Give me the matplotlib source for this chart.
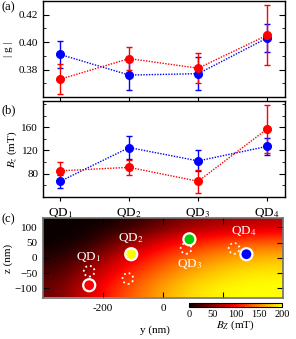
import numpy as np
import matplotlib
matplotlib.use('Agg')
import matplotlib.pyplot as plt
from matplotlib.colors import ListedColormap

plt.rcParams['font.family'] = ['Liberation Serif', 'DejaVu Serif']
plt.rcParams['mathtext.fontset'] = 'stix'
plt.rcParams['font.size'] = 8

# data
qd = [1, 2, 3, 4]
qd_labels = ['QD$_1$', 'QD$_2$', 'QD$_3$', 'QD$_4$']

g_red = [0.373, 0.388, 0.381, 0.405]
g_red_err = [0.0107, 0.0085, 0.011, 0.022]
g_blue = [0.391, 0.376, 0.377, 0.403]
g_blue_err = [0.010, 0.011, 0.012, 0.0105]

bz_red = [85, 91, 67, 157]
bz_red_err = [15, 13, 20, 41]
bz_blue = [67, 125, 102, 127]
bz_blue_err = [11, 20, 18, 14]

# B_z map (mT), rows from z=+130 down to z=-130, columns y=-400..400
map_y = [-400, -300, -200, -100, 0, 100, 200, 300, 400]
map_z = [130, 65, 0, -65, -130]
bz_map = [
    [0, 0, 5, 15, 35, 50, 60, 65, 70],
    [0, 5, 30, 60, 85, 105, 118, 128, 132],
    [10, 30, 65, 95, 120, 140, 155, 165, 170],
    [25, 55, 90, 120, 145, 165, 178, 188, 192],
    [40, 75, 110, 140, 165, 185, 195, 200, 200],
]

# quantum dot positions (nm)
dot_y = [-246, -106, 88, 278]
dot_z = [-90, 12, 61, 12]
dot_colors = ['red', 'yellow', '#00cc00', 'blue']
ring_y = [-246, -117, 77, 237]
ring_z = [-44, -68, 31, 31]
text_y = [-247, -108, 90, 268]
text_z = [2, 65, -21, 87]

W, H = 296, 339
fig = plt.figure(figsize=(W / 100, H / 100), dpi=100)

def fx(px):
    return px / W

def fy(py):
    return 1 - py / H

ax_a = fig.add_axes([fx(43), fy(97), fx(285 - 43), (97 - 1) / H])
ax_b = fig.add_axes([fx(43), fy(197), fx(285 - 43), (197 - 101) / H])
ax_c = fig.add_axes([fx(43), fy(298), fx(283 - 43), (298 - 218) / H])
cax = fig.add_axes([fx(189), fy(307), fx(282 - 189), 4 / H])

lw = 1.0
for ax, r, re, b, be in [(ax_a, g_red, g_red_err, g_blue, g_blue_err),
                         (ax_b, bz_red, bz_red_err, bz_blue, bz_blue_err)]:
    ax.errorbar(qd, b, yerr=be, color='blue', ls=(0, (1, 1)), lw=lw,
                marker='o', ms=5.5, capsize=2.5, elinewidth=1, capthick=1)
    ax.errorbar(qd, r, yerr=re, color='red', ls=(0, (1, 1)), lw=lw,
                marker='o', ms=5.5, capsize=2.5, elinewidth=1, capthick=1)
    ax.set_xlim(0.75, 4.26)
    ax.set_xticks(qd)
    ax.tick_params(axis='x', direction='out', length=3, top=False)
    ax.tick_params(axis='y', which='both', direction='in', right=True)
    ax.tick_params(axis='y', which='major', length=4)
    ax.tick_params(axis='y', which='minor', length=2.5)
    for s in ax.spines.values():
        s.set_linewidth(1.0)

ax_a.set_ylim(0.36, 0.43)
ax_a.set_yticks([0.38, 0.40, 0.42])
ax_a.set_yticks(np.arange(0.36, 0.431, 0.01), minor=True)
ax_a.set_xticklabels([])
ax_a.set_ylabel('| g |', fontsize=8, labelpad=4)

ax_b.set_ylim(40, 205)
ax_b.set_yticks([80, 120, 160])
ax_b.set_yticks(np.arange(40, 205, 20), minor=True)
ax_b.set_xticklabels(qd_labels, fontsize=9.5)
ax_b.set_ylabel('$B_z$ (mT)', fontsize=8, labelpad=2)

cmap = ListedColormap(plt.cm.hot(np.linspace(0, 0.75, 256)))
im = ax_c.imshow(bz_map, cmap=cmap, vmin=0, vmax=200, aspect='auto',
                 extent=[map_y[0], map_y[-1], map_z[-1], map_z[0]],
                 interpolation='bicubic')
ax_c.scatter(ring_y, ring_z, s=60, facecolors='none', edgecolors='white',
             linestyles=':', linewidths=1.3, zorder=3)
ax_c.scatter(dot_y, dot_z, s=75, c=dot_colors, edgecolors='white',
             linewidths=1.6, zorder=4)
for ty, tz, lab in zip(text_y, text_z, qd_labels):
    ax_c.text(ty, tz, lab, color='white', fontsize=9.5, ha='center', va='center')
ax_c.set_xlim(-400, 400)
ax_c.set_ylim(-132, 131)
ax_c.set_xticks([-200, 0, 200])
ax_c.set_xticklabels(['-200', '0', ''])
ax_c.set_yticks([-100, -50, 0, 50, 100])
ax_c.tick_params(direction='in', top=True, right=True, length=4, pad=4)
ax_c.set_xlabel('y (nm)', fontsize=8)
ax_c.xaxis.set_label_coords((155 - 43) / 240, -0.34)
ax_c.set_ylabel('z (nm)', fontsize=8, labelpad=1)
for s in ax_c.spines.values():
    s.set_color('#707070')
    s.set_linewidth(1.2)

cb = fig.colorbar(im, cax=cax, orientation='horizontal')
cb.set_ticks([0, 50, 100, 150, 200])
cb.ax.tick_params(labelsize=7.5, length=0, pad=2)
cb.outline.set_linewidth(0.8)
cb.set_label('$B_Z$ (mT)', fontsize=8, labelpad=0)

fig.text(fx(2), fy(10), '(a)', fontsize=9)
fig.text(fx(2), fy(113), '(b)', fontsize=9)
fig.text(fx(2), fy(222), '(c)', fontsize=9)

fig.savefig('out.png', dpi=100)
